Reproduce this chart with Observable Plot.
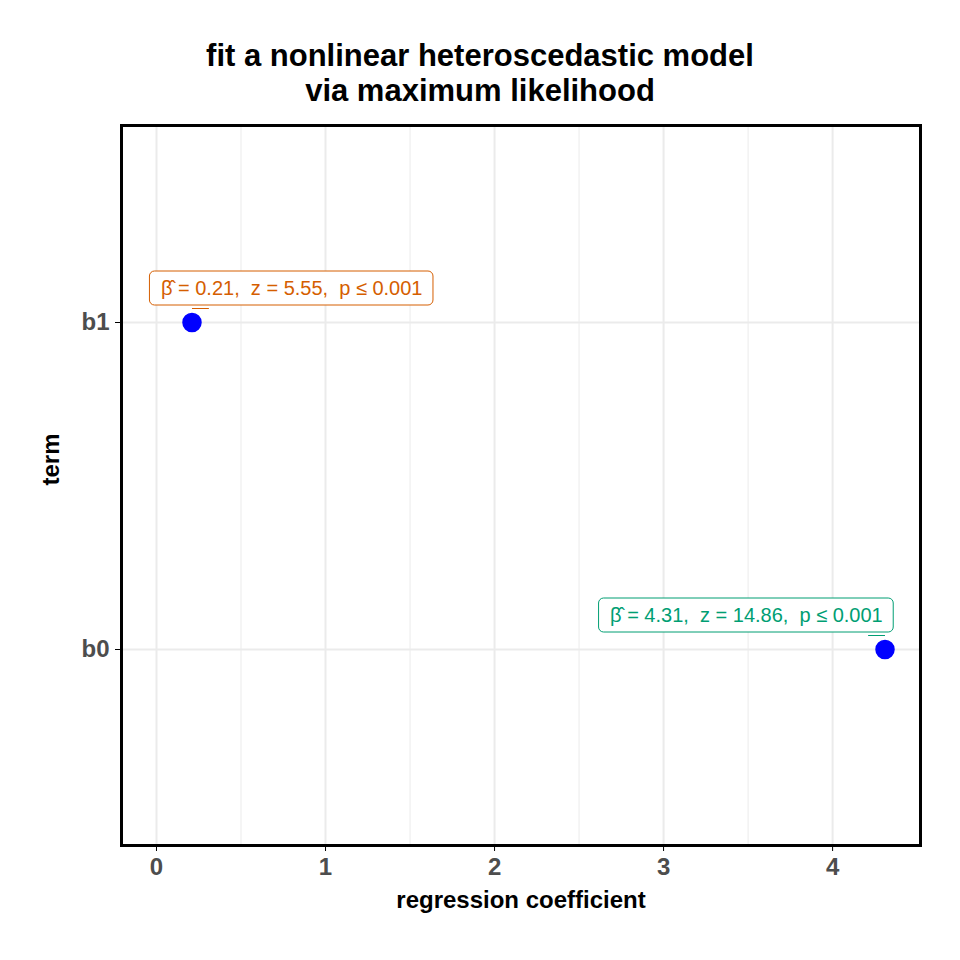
<!DOCTYPE html>
<html><head><meta charset="utf-8">
<script src="https://cdn.jsdelivr.net/npm/d3@7"></script>
<script src="https://cdn.jsdelivr.net/npm/@observablehq/plot@0.6"></script>
<style>
body{margin:0;background:#fff;font-family:"Liberation Sans",Arial,sans-serif;}
#title{height:120px;box-sizing:border-box;padding-top:38px;text-align:center;font-weight:bold;font-size:31px;line-height:35px;}
</style></head><body>
<div id="title">fit a nonlinear heteroscedastic model<br>via maximum likelihood</div>
<div id="chart"></div>
<script>
const terms = ["b1", "b0"];
const estimates = [0.21, 4.31];
const labels = ["β̂ = 0.21,  z = 5.55,  p ≤ 0.001", "β̂ = 4.31,  z = 14.86,  p ≤ 0.001"];
const labelX = [0.8, 3.49];
const labelColors = ["#D55E00", "#009E73"];

const data = terms.map((t, i) => ({term: t, estimate: estimates[i], label: labels[i], lx: labelX[i], color: labelColors[i]}));

const FONT = "20px 'Liberation Sans', Arial, sans-serif";
const ctx = document.createElement("canvas").getContext("2d");
ctx.font = FONT;

// rounded boxes sized from the measured label text, centred on the label position
function labelBoxes(index, {x, y}, values, dims, context) {
  const g = d3.create("svg:g");
  for (const i of index) {
    const d = data[i];
    const w = ctx.measureText(d.label).width + 22;
    const h = 34;
    g.append("rect")
      .attr("x", x(d.lx) - w / 2).attr("y", y(d.term) - 34 - h / 2)
      .attr("width", w).attr("height", h).attr("rx", 5)
      .attr("fill", "white").attr("stroke", d.color).attr("stroke-width", 1);
  }
  return g.node();
}

const chart = Plot.plot({
  width: 960,
  height: 840,
  marginTop: 5,
  marginBottom: 115,
  marginLeft: 121,
  marginRight: 40,
  style: {fontFamily: "'Liberation Sans', Arial, sans-serif"},
  x: {domain: [-0.207, 4.52]},
  y: {type: "point", domain: ["b1", "b0"], padding: 0.6},
  marks: [
    Plot.gridX([0.5, 1.5, 2.5, 3.5], {stroke: "#ebebeb", strokeOpacity: 1, strokeWidth: 1}),
    Plot.gridX([0, 1, 2, 3, 4], {stroke: "#ebebeb", strokeOpacity: 1, strokeWidth: 2}),
    Plot.gridY(terms, {stroke: "#ebebeb", strokeOpacity: 1, strokeWidth: 2}),
    Plot.ruleX([0], {y1: 1.6, y2: -0.6, stroke: "black", strokeWidth: 4, strokeDasharray: "17,10"}),
    Plot.link(data, {x1: "estimate", y1: "term", x2: d => d.estimate + (d.lx < d.estimate ? -0.1 : 0.1), y2: "term", dy: -14, stroke: "color"}),
    Plot.dot(data, {x: "estimate", y: "term", r: 9, fill: "blue", stroke: "blue"}),
    Plot.dot(data, {x: "lx", y: "term", render: labelBoxes}),
    Plot.text(data, {x: "lx", y: "term", text: "label", fill: "color", dy: -34, fontSize: 20}),
    Plot.frame({stroke: "black", strokeWidth: 3}),
    Plot.axisX({ticks: [0, 1, 2, 3, 4], tickFormat: "d", fontSize: 24, fontWeight: "bold", fill: "#4d4d4d", tickSize: 6, tickPadding: 6, label: null}),
    Plot.axisY({fontSize: 24, fontWeight: "bold", fill: "#4d4d4d", tickSize: 6, tickPadding: 6, label: null}),
    Plot.text(["regression coefficient"], {frameAnchor: "bottom", dy: 62, fontSize: 24, fontWeight: "bold", fill: "black"}),
    Plot.text(["term"], {frameAnchor: "left", dx: -70, rotate: -90, fontSize: 24, fontWeight: "bold", fill: "black"})
  ]
});
d3.select("#chart").append(() => chart);
</script></body></html>
